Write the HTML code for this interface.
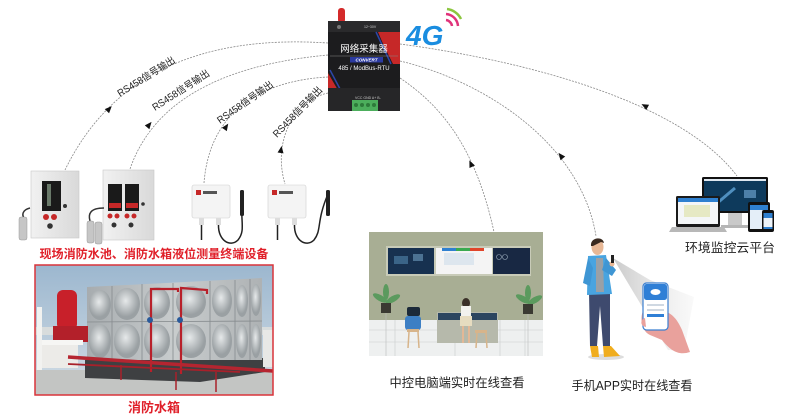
<!DOCTYPE html>
<html><head><meta charset="utf-8"><style>
html,body{margin:0;padding:0;background:#fff;width:800px;height:414px;overflow:hidden}
svg{display:block}
text{font-family:"Liberation Sans","Noto Sans CJK SC",sans-serif}
</style></head><body>
<svg width="800" height="414" viewBox="0 0 800 414" xmlns="http://www.w3.org/2000/svg">
<defs>
<linearGradient id="sky" x1="0" y1="0" x2="0" y2="1"><stop offset="0" stop-color="#9cb7cf"/><stop offset="1" stop-color="#d3dde5"/></linearGradient>
<linearGradient id="tank" x1="0" y1="0" x2="1" y2="0"><stop offset="0" stop-color="#a7acaf"/><stop offset=".5" stop-color="#c8cccd"/><stop offset="1" stop-color="#aeb2b4"/></linearGradient>
<linearGradient id="cone" x1="0" y1="0" x2="1" y2="0"><stop offset="0" stop-color="#b8b8b8" stop-opacity=".75"/><stop offset="1" stop-color="#ececec" stop-opacity=".3"/></linearGradient>
<linearGradient id="box" x1="0" y1="0" x2="1" y2="0"><stop offset="0" stop-color="#f1f1f1"/><stop offset="1" stop-color="#d9d9d9"/></linearGradient>
<radialGradient id="bulge" cx=".45" cy=".4"><stop offset="0" stop-color="#e6e9ea"/><stop offset="1" stop-color="#9aa0a3"/></radialGradient>
</defs>

<!-- connector curves -->
<g fill="none" stroke="#8a8a8a" stroke-width="0.8" stroke-dasharray="2 1.2">
<path d="M328,43 Q133,30 65,170"/>
<path d="M328,55 Q161.5,70.5 129,172"/>
<path d="M328,77 C270,80 210,105 204,183"/>
<path d="M328,93 C295,100 272,140 285,184"/>
<path d="M400,44 C520,60 680,100 737,176"/>
<path d="M400,61 C480,80 580,140 596,236"/>
<path d="M400,78 C440,105 475,145 494,232"/>
</g>
<g fill="#111">
<path d="M4,0 L-3,-3 L-3,3 Z" transform="translate(109,109) rotate(-46)"/>
<path d="M4,0 L-3,-3 L-3,3 Z" transform="translate(149,125) rotate(-50)"/>
<path d="M4,0 L-3,-3 L-3,3 Z" transform="translate(226,127) rotate(-56)"/>
<path d="M4,0 L-3,-3 L-3,3 Z" transform="translate(281,150) rotate(-81)"/>
<path d="M4,0 L-3,-3 L-3,3 Z" transform="translate(645,106) rotate(-152)"/>
<path d="M4,0 L-3,-3 L-3,3 Z" transform="translate(561,156) rotate(-128)"/>
<path d="M4,0 L-3,-3 L-3,3 Z" transform="translate(471,164) rotate(-114)"/>
</g>
<g font-size="10" fill="#222">
<text transform="translate(120,97) rotate(-32)" textLength="66" lengthAdjust="spacingAndGlyphs">RS458信号输出</text>
<text transform="translate(155,111) rotate(-33)" textLength="66" lengthAdjust="spacingAndGlyphs">RS458信号输出</text>
<text transform="translate(220,124) rotate(-35)" textLength="66" lengthAdjust="spacingAndGlyphs">RS458信号输出</text>
<text transform="translate(277,138) rotate(-46)" textLength="66" lengthAdjust="spacingAndGlyphs">RS458信号输出</text>
</g>

<!-- gateway device -->
<rect x="338" y="8" width="7" height="15" rx="3" fill="#d42a2a"/>
<rect x="328" y="21" width="72" height="90" rx="2" fill="#1c1c1e"/>
<rect x="328" y="21" width="72" height="11" fill="#2a2a2c"/>
<polygon points="328,73 346,104 328,104" fill="#c62828"/>
<polyline points="330,70 348,104" stroke="#2d46a8" stroke-width="1.5" fill="none"/>
<polygon points="378,32 400,32 400,64 393,64 384,46" fill="#c62828"/>
<polyline points="376,32 391,64" stroke="#2d46a8" stroke-width="1.5" fill="none"/>
<text x="364" y="52" font-size="9.5" fill="#fff" text-anchor="middle">网络采集器</text>
<line x1="330" y1="56" x2="398" y2="56" stroke="#888" stroke-width=".5"/>
<rect x="350" y="57" width="33" height="5.5" fill="#2b3aa0"/>
<text x="366.5" y="61.6" font-size="4.5" fill="#fff" text-anchor="middle" font-style="italic" font-weight="bold">CONVERT</text>
<text x="364" y="70" font-size="6" fill="#fff" text-anchor="middle">485 / ModBus-RTU</text>
<text x="364" y="28" font-size="3.5" fill="#ccc">12~30V</text>
<circle cx="339" cy="27" r="2" fill="#777"/>
<rect x="328" y="88" width="72" height="23" fill="#262628"/>
<text x="355" y="99" font-size="3.5" fill="#ccc">VCC GND A+ B-</text>
<rect x="352" y="100" width="26" height="11" fill="#4cae5c"/>
<g fill="#2d7a3a"><circle cx="356" cy="105" r="2"/><circle cx="362" cy="105" r="2"/><circle cx="368" cy="105" r="2"/><circle cx="374" cy="105" r="2"/></g>

<!-- 4G -->
<text x="406" y="45" font-size="28" font-weight="bold" font-style="italic" fill="#1a8de0">4G</text>
<path d="M446,20 A7,7 0 0 1 452,26" stroke="#e0337a" stroke-width="2.5" fill="none"/>
<path d="M446,14 A13,13 0 0 1 458,26" stroke="#e0337a" stroke-width="2.5" fill="none"/>
<path d="M447,9 A18,18 0 0 1 461,19" stroke="#8cc63f" stroke-width="2.5" fill="none"/>

<!-- control boxes -->
<rect x="31" y="171" width="48" height="67" fill="url(#box)" stroke="#c8c8c8" stroke-width=".6"/>
<rect x="42" y="181" width="19" height="30" fill="#1a1a1a"/>
<rect x="47" y="184" width="4" height="22" fill="#6a7a6a"/>
<circle cx="46" cy="217" r="3" fill="#c62828"/><circle cx="54" cy="217" r="3" fill="#c62828"/>
<circle cx="50" cy="226" r="2.8" fill="#333"/>
<circle cx="65" cy="206" r="2" fill="#333"/>
<path d="M30,208 C22,210 22,215 24,218" stroke="#333" stroke-width="1.5" fill="none"/>
<rect x="19" y="217" width="8" height="23" rx="2" fill="#c6c6c6" stroke="#999" stroke-width=".5"/>

<rect x="103" y="170" width="51" height="70" fill="url(#box)" stroke="#c8c8c8" stroke-width=".6"/>
<rect x="108" y="184" width="14" height="27" fill="#1a1a1a"/>
<rect x="125" y="184" width="14" height="27" fill="#1a1a1a"/>
<rect x="109" y="203" width="12" height="5" fill="#c62828"/><rect x="126" y="203" width="12" height="5" fill="#c62828"/>
<circle cx="110" cy="216" r="2.5" fill="#c62828"/><circle cx="117" cy="216" r="2.5" fill="#c62828"/>
<circle cx="127" cy="216" r="2.5" fill="#c62828"/><circle cx="134" cy="216" r="2.5" fill="#c62828"/>
<circle cx="114" cy="225" r="2.5" fill="#333"/><circle cx="131" cy="225" r="2.5" fill="#333"/>
<circle cx="143" cy="204" r="1.8" fill="#333"/>
<path d="M104,208 C90,208 88,214 90,221" stroke="#333" stroke-width="1.5" fill="none"/>
<rect x="87" y="221" width="7" height="22" rx="2" fill="#c6c6c6" stroke="#999" stroke-width=".5"/>
<rect x="95" y="222" width="7" height="22" rx="2" fill="#c6c6c6" stroke="#999" stroke-width=".5"/>

<!-- wall sensors -->
<g>
<rect x="192" y="185" width="38" height="33" rx="2" fill="#f4f4f4" stroke="#cfcfcf" stroke-width=".6"/>
<rect x="196" y="190" width="5" height="5" fill="#c62828"/><rect x="203" y="191" width="14" height="3" fill="#555"/>
<rect x="199" y="218" width="5" height="7" fill="#ddd"/><rect x="216" y="218" width="5" height="7" fill="#ddd"/>
<line x1="201.5" y1="225" x2="201.5" y2="240" stroke="#222" stroke-width="1.5"/>
<path d="M218.5,225 C218,240 230,248 238,240 C246,230 240,222 242,194" stroke="#222" stroke-width="1.5" fill="none"/>
<rect x="240" y="190" width="4" height="26" rx="1.5" fill="#222"/>
</g>
<g>
<rect x="268" y="185" width="38" height="33" rx="2" fill="#f4f4f4" stroke="#cfcfcf" stroke-width=".6"/>
<rect x="272" y="190" width="5" height="5" fill="#c62828"/><rect x="279" y="191" width="14" height="3" fill="#555"/>
<rect x="275" y="218" width="5" height="7" fill="#ddd"/><rect x="292" y="218" width="5" height="7" fill="#ddd"/>
<line x1="277.5" y1="225" x2="277.5" y2="240" stroke="#222" stroke-width="1.5"/>
<path d="M294.5,225 C294,240 306,248 314,240 C322,230 316,222 328,194" stroke="#222" stroke-width="1.5" fill="none"/>
<rect x="326" y="190" width="4" height="26" rx="1.5" fill="#222"/>
</g>

<text x="154" y="258" font-size="12" font-weight="bold" fill="#e0202a" text-anchor="middle" textLength="229" lengthAdjust="spacingAndGlyphs">现场消防水池、消防水箱液位测量终端设备</text>

<!-- tank photo -->
<rect x="35" y="265" width="238" height="130" fill="url(#sky)"/>
<rect x="35" y="327" width="238" height="8" fill="#d8dcdc"/>
<rect x="35" y="370" width="238" height="25" fill="#c3c5c3"/>
<polygon points="85,360 265,358 265,372 200,382 85,378" fill="#3e4042"/>
<polygon points="87,287 262,278 262,360 87,360" fill="url(#tank)"/>
<g fill="url(#bulge)">
<ellipse cx="100" cy="305" rx="11" ry="15"/><ellipse cx="127" cy="304" rx="13" ry="16"/><ellipse cx="157" cy="303" rx="13" ry="16"/><ellipse cx="191" cy="302" rx="15" ry="16"/><ellipse cx="222" cy="301" rx="10" ry="16"/><ellipse cx="242" cy="301" rx="6" ry="16"/><ellipse cx="256" cy="300" rx="5" ry="16"/>
<ellipse cx="100" cy="341" rx="11" ry="17"/><ellipse cx="127" cy="341" rx="13" ry="17"/><ellipse cx="157" cy="341" rx="13" ry="17"/><ellipse cx="191" cy="341" rx="15" ry="17"/><ellipse cx="222" cy="341" rx="10" ry="17"/><ellipse cx="242" cy="341" rx="6" ry="17"/><ellipse cx="256" cy="341" rx="5" ry="17"/>
</g>
<g stroke="#868b8e" stroke-width=".8">
<line x1="87" y1="322" x2="262" y2="321"/>
<line x1="112" y1="286" x2="112" y2="360"/><line x1="142" y1="284" x2="142" y2="360"/><line x1="173" y1="283" x2="173" y2="360"/><line x1="210" y1="281" x2="210" y2="360"/><line x1="235" y1="280" x2="235" y2="360"/><line x1="250" y1="279" x2="250" y2="360"/>
</g>
<rect x="57" y="290" width="20" height="40" rx="6" fill="#c8202a"/>
<rect x="53" y="326" width="35" height="16" fill="#b3202a"/>
<rect x="37" y="342" width="41" height="26" fill="#ecebe8"/>
<rect x="37" y="340" width="46" height="5" fill="#f6f6f4"/>
<rect x="37" y="307" width="5" height="63" fill="#f2f2f0"/>
<rect x="263" y="330" width="10" height="37" fill="#e8e8e6"/>
<g fill="none" stroke="#b8202a" stroke-width="2.2">
<path d="M151,372 L151,289 L178,289 L178,292"/>
<path d="M181,374 L181,288 L207,290 L207,294"/>
</g>
<g fill="none" stroke="#b52530" stroke-width="3.5">
<path d="M68,357 L273,371"/>
</g>
<path d="M68,364 L240,372" stroke="#a8202a" stroke-width="1.8" fill="none"/>
<g stroke="#a8202a" stroke-width="1.5"><line x1="121" y1="365" x2="121" y2="380"/><line x1="176" y1="372" x2="176" y2="390"/><line x1="216" y1="372" x2="216" y2="392"/></g>
<circle cx="150" cy="320" r="3" fill="#2a5a9a"/><circle cx="180" cy="320" r="3" fill="#2a5a9a"/>
<rect x="35" y="265" width="238" height="130" fill="none" stroke="#d9343a" stroke-width="1.5"/>
<text x="154" y="412" font-size="13" font-weight="bold" fill="#e0202a" text-anchor="middle">消防水箱</text>

<!-- control center -->
<rect x="369" y="232" width="174" height="90" fill="#a8ae94"/>
<rect x="369" y="320" width="174" height="36" fill="#eef0f0"/>
<g stroke="#c9cccc" stroke-width=".6"><line x1="369" y1="330" x2="543" y2="330"/><line x1="369" y1="342" x2="543" y2="342"/><line x1="395" y1="320" x2="395" y2="356"/><line x1="455" y1="320" x2="455" y2="356"/><line x1="500" y1="320" x2="500" y2="356"/><line x1="525" y1="320" x2="525" y2="356"/></g>
<rect x="386" y="246" width="145" height="30" fill="#c8cbb8"/>
<rect x="388" y="248" width="46" height="26" fill="#173150"/>
<rect x="394" y="256" width="14" height="8" fill="#4a7aa0" opacity=".7"/><rect x="413" y="254" width="10" height="7" fill="#6f9fbf" opacity=".6"/>
<rect x="436" y="248" width="56" height="26" fill="#f4f4f4"/>
<rect x="442" y="248" width="14" height="3" fill="#2f80d0"/><rect x="456" y="248" width="14" height="3" fill="#3aaa50"/><rect x="470" y="248" width="14" height="3" fill="#e0442a"/>
<rect x="444" y="253" width="30" height="12" fill="#dde6ee"/>
<rect x="493" y="248" width="37" height="26" fill="#182843"/>
<circle cx="499" cy="257" r="2.5" fill="none" stroke="#9ab" stroke-width=".6"/><circle cx="505" cy="257" r="2.5" fill="none" stroke="#9ab" stroke-width=".6"/>
<!-- plants -->
<g fill="#5b9a5e"><ellipse cx="380" cy="298" rx="8" ry="3" transform="rotate(30 380 298)"/><ellipse cx="393" cy="299" rx="8" ry="3" transform="rotate(-30 393 299)"/><ellipse cx="386" cy="292" rx="3" ry="8"/>
<ellipse cx="523" cy="299" rx="8" ry="3" transform="rotate(30 523 299)"/><ellipse cx="535" cy="300" rx="8" ry="3" transform="rotate(-30 535 300)"/><ellipse cx="528" cy="293" rx="3" ry="8"/></g>
<rect x="381" y="303" width="10" height="10" fill="#3a3a32"/><rect x="523" y="304" width="10" height="10" fill="#3a3a32"/>
<line x1="386" y1="313" x2="386" y2="356" stroke="#bbb" stroke-width=".6"/><line x1="528" y1="314" x2="528" y2="356" stroke="#bbb" stroke-width=".6"/>
<!-- desk -->
<rect x="437" y="312" width="61" height="31" fill="#b6b9ab"/>
<rect x="438" y="313" width="59" height="7" fill="#2b4560"/>
<rect x="475" y="330" width="12" height="3" fill="#d7b48a"/><line x1="477" y1="333" x2="476" y2="348" stroke="#d7b48a" stroke-width="1.5"/><line x1="486" y1="333" x2="487" y2="348" stroke="#d7b48a" stroke-width="1.5"/>
<!-- standing person -->
<ellipse cx="466" cy="303" rx="4" ry="5" fill="#3a3028"/>
<rect x="461" y="306" width="10" height="11" fill="#f2f2ee"/>
<rect x="460" y="316" width="12" height="10" fill="#e6dcc0"/>
<line x1="463" y1="326" x2="463" y2="343" stroke="#e3b896" stroke-width="2"/><line x1="469" y1="326" x2="469" y2="343" stroke="#e3b896" stroke-width="2"/>
<!-- sitting person -->
<rect x="407" y="307" width="13" height="9" rx="2" fill="#1c2a3a"/>
<rect x="405" y="316" width="16" height="14" rx="3" fill="#3d7fc4"/>
<rect x="407" y="329" width="12" height="3" fill="#d7b48a"/><line x1="409" y1="332" x2="408" y2="348" stroke="#d7b48a" stroke-width="1.5"/><line x1="418" y1="332" x2="419" y2="348" stroke="#d7b48a" stroke-width="1.5"/>
<text x="457" y="387" font-size="12.5" fill="#222" text-anchor="middle" textLength="135" lengthAdjust="spacingAndGlyphs">中控电脑端实时在线查看</text>

<!-- cloud platform devices -->
<rect x="702" y="177" width="66" height="36" rx="1.5" fill="#111"/>
<rect x="704" y="181" width="62" height="30" fill="#0e3a5c"/>
<rect x="704" y="179" width="62" height="2" fill="#dfe8f0"/>
<path d="M715,205 L735,188" stroke="#4f8fbf" stroke-width="3"/>
<rect x="744" y="190" width="12" height="8" fill="#4d7fa8"/>
<rect x="728" y="213" width="14" height="12" fill="#c9c9c9"/>
<rect x="721" y="225" width="28" height="3" fill="#b5b5b5"/>
<rect x="676" y="196" width="44" height="31" rx="1.5" fill="#1a1a1a"/>
<rect x="678" y="198" width="40" height="26" fill="#f4f6f8"/>
<rect x="678" y="198" width="40" height="4" fill="#2f80d0"/>
<rect x="684" y="205" width="26" height="12" fill="#e6e9c4"/>
<polygon points="672,227 724,227 727,232 669,232" fill="#b8b8b8"/>
<rect x="748" y="202" width="22" height="30" rx="2" fill="#111"/>
<rect x="750" y="205" width="18" height="24" fill="#e4eef8"/>
<rect x="750" y="205" width="18" height="5" fill="#2f80d0"/>
<rect x="762" y="210" width="12" height="22" rx="2" fill="#111"/>
<rect x="763.5" y="213" width="9" height="16" fill="#2f80d0"/>
<rect x="763.5" y="218" width="9" height="9" fill="#eef4fa"/>
<text x="730" y="252" font-size="12.5" fill="#222" text-anchor="middle" textLength="90" lengthAdjust="spacingAndGlyphs">环境监控云平台</text>

<!-- person with phone -->
<polygon points="613,258 650,280 694,297 684,351 668,350" fill="url(#cone)"/>
<ellipse cx="606" cy="357" rx="18" ry="3" fill="#ddd"/>
<path d="M589,292 L610,292 L610,346 L603,346 L600,306 L597,346 L590,346 Z" fill="#3e4a6e"/>
<path d="M590,346 L598,346 L599,357 L592,357 Z" fill="#f0ad1e"/>
<path d="M603,346 L611,346 L620,356 L604,357 Z" fill="#f0ad1e"/>
<path d="M588,256 L606,255 L612,294 L587,295 Z" fill="#49a4e0"/>
<path d="M596,258 L603,258 L604,292 L596,292 Z" fill="#9aa0a6"/>
<path d="M588,258 L583,283 L590,286 L593,268 Z" fill="#3f96d4"/>
<path d="M606,258 L616,270 L612,276 L602,270 Z" fill="#3f96d4"/>
<circle cx="612" cy="264" r="2.5" fill="#e8b896"/>
<rect x="611" y="255" width="3" height="8" fill="#222"/>
<ellipse cx="597.5" cy="247" rx="6" ry="8" fill="#e8b896"/>
<path d="M591,246 C590,237 603,236 604,243 L601,242 L593,246 Z" fill="#3a2a20"/>
<!-- hand & phone -->
<path d="M648,306 C639,309 639,330 650,335 L662,340 C670,350 678,356 690,352 L682,330 C676,316 668,310 660,312 Z" fill="#e9a19c"/>
<rect x="643" y="283" width="25" height="47" rx="3.5" fill="#fff" stroke="#3b7fd0" stroke-width="1.2"/>
<rect x="644" y="284" width="23" height="16" rx="2.5" fill="#2f7fd6"/>
<ellipse cx="655.5" cy="292" rx="5" ry="3" fill="#fff"/>
<rect x="647" y="304" width="17" height="2" fill="#cfd8e2"/><rect x="647" y="309" width="17" height="2" fill="#cfd8e2"/>
<rect x="647" y="314" width="17" height="3" fill="#2f7fd6"/>
<path d="M645,318 C640,320 640,326 646,327" fill="#e9a19c"/>
<text x="632" y="390" font-size="12.5" fill="#222" text-anchor="middle" textLength="121" lengthAdjust="spacingAndGlyphs">手机APP实时在线查看</text>
</svg>
</body></html>
